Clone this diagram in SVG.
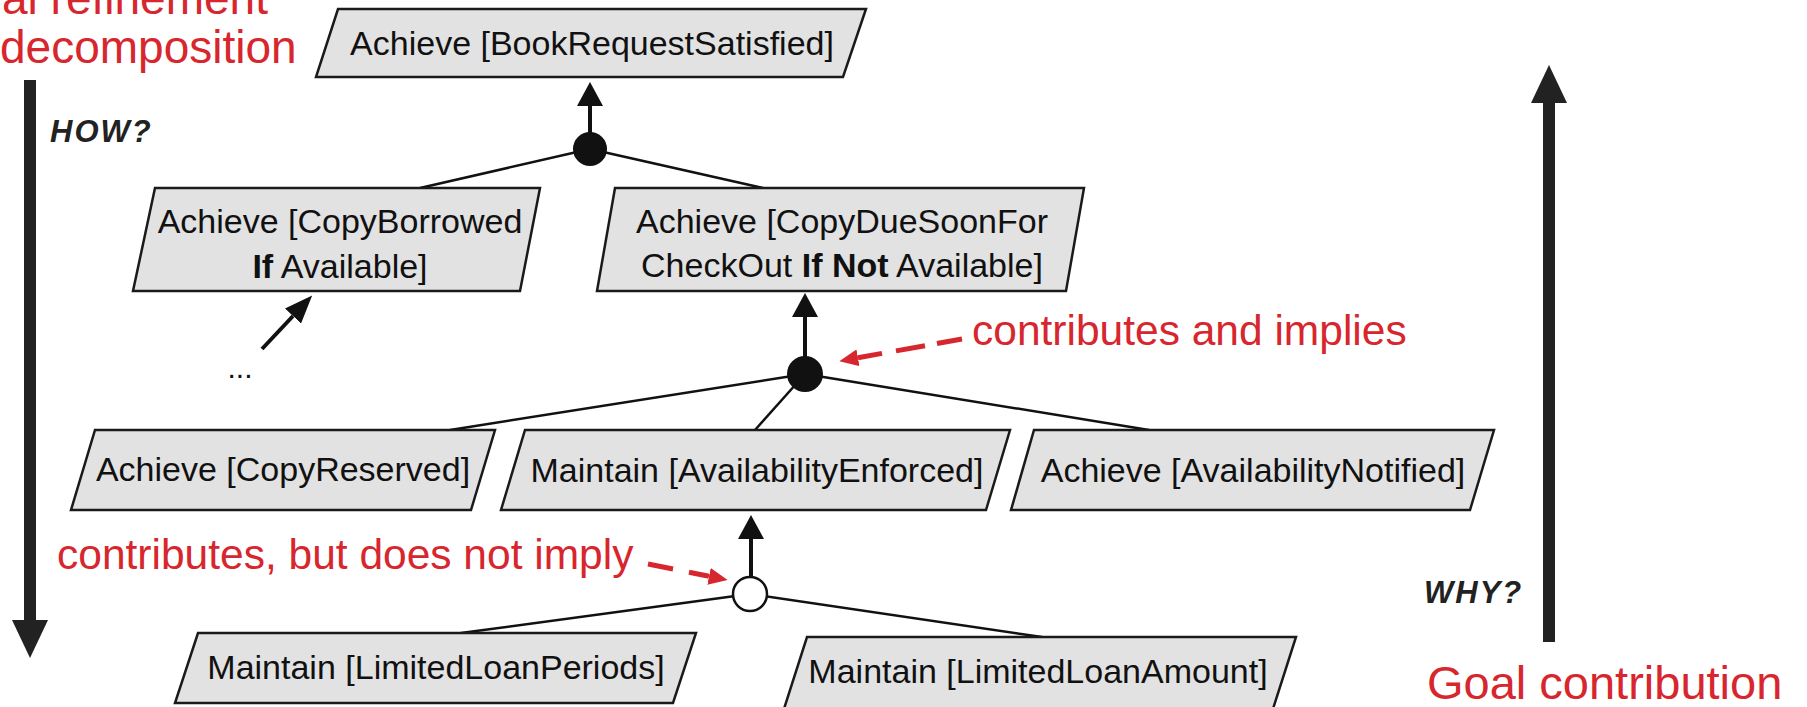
<svg xmlns="http://www.w3.org/2000/svg" width="1807" height="707" viewBox="0 0 1807 707">
<style>
.goal{fill:#e2e2e2;stroke:#1a1a1a;stroke-width:2.5;stroke-linejoin:miter}
.gt{font-family:"Liberation Sans",Arial,Helvetica,sans-serif;font-size:34px;fill:#111;text-anchor:middle}
.b{font-weight:bold}
.red{font-family:"Liberation Sans",Arial,Helvetica,sans-serif;fill:#d7262d}
.q{font-family:"Liberation Sans",Arial,Helvetica,sans-serif;font-size:31px;font-weight:bold;font-style:italic;fill:#222;letter-spacing:2px}
.edge{stroke:#111;stroke-width:2.5;fill:none}
.shaft{stroke:#111;stroke-width:4;fill:none}
.big{stroke:#222;stroke-width:12;fill:none}
.rdash{stroke:#d7262d;stroke-width:5;fill:none}
.and{fill:#111;stroke:#111;stroke-width:2}
.or{fill:#fff;stroke:#111;stroke-width:2.5}
</style>
<defs>
<marker id="ah" markerUnits="userSpaceOnUse" markerWidth="24" markerHeight="26" refX="0" refY="13" orient="auto"><path d="M0,0 L24,13 L0,26 z" fill="#111"/></marker>
<marker id="ahBig" markerUnits="userSpaceOnUse" markerWidth="38" markerHeight="36" refX="0" refY="18" orient="auto"><path d="M0,0 L38,18 L0,36 z" fill="#222"/></marker>
<marker id="ahRed" markerUnits="userSpaceOnUse" markerWidth="19" markerHeight="17" refX="0" refY="8.5" orient="auto"><path d="M0,0 L19,8.5 L0,17 z" fill="#d7262d"/></marker>
<marker id="ahDots" markerUnits="userSpaceOnUse" markerWidth="28" markerHeight="22" refX="0" refY="11" orient="auto"><path d="M0,0 L28,11 L0,22 z" fill="#111"/></marker>
</defs>
<rect width="1807" height="707" fill="#fff"/>

<g id="side-labels">
<text class="red" x="2" y="14" font-size="46">al refinement</text>
<text class="red" x="0" y="63" font-size="46">decomposition</text>
<text class="q" x="50" y="142">HOW?</text>
<text class="q" x="1424" y="603">WHY?</text>
<text class="red" x="1427" y="699" font-size="47">Goal contribution</text>
<text class="red" x="972" y="345" font-size="42.5">contributes and implies</text>
<text class="red" x="57" y="569" font-size="42.5">contributes, but does not imply</text>
<text x="240" y="378" font-family="Liberation Sans,Arial,sans-serif" font-size="30" fill="#111" text-anchor="middle">...</text>
</g>

<g id="connectors">
<line class="big" x1="30" y1="80" x2="30" y2="620" marker-end="url(#ahBig)"/>
<line class="big" x1="1549" y1="642" x2="1549" y2="103" marker-end="url(#ahBig)"/>
<line class="shaft" x1="590" y1="134" x2="590" y2="106" marker-end="url(#ah)"/>
<line class="edge" x1="590" y1="149" x2="420" y2="188"/>
<line class="edge" x1="590" y1="149" x2="763" y2="188"/>
<line class="shaft" x1="805" y1="358" x2="805" y2="317" marker-end="url(#ah)"/>
<line class="edge" x1="805" y1="374" x2="450" y2="430"/>
<line class="edge" x1="805" y1="374" x2="755" y2="430"/>
<line class="edge" x1="805" y1="374" x2="1149" y2="430"/>
<line class="shaft" x1="751" y1="577" x2="751" y2="539" marker-end="url(#ah)"/>
<line class="edge" x1="750" y1="594" x2="461" y2="633"/>
<line class="edge" x1="750" y1="594" x2="1042" y2="637"/>
<line class="shaft" x1="262" y1="349" x2="293" y2="316" marker-end="url(#ahDots)"/>
<line class="rdash" x1="962" y1="339" x2="937" y2="343.5"/>
<line class="rdash" x1="925" y1="345.7" x2="896" y2="350.9"/>
<line class="rdash" x1="882" y1="353.4" x2="858" y2="357.8" marker-end="url(#ahRed)"/>
<line class="rdash" x1="648" y1="564" x2="673" y2="569"/>
<line class="rdash" x1="689" y1="572.2" x2="709" y2="576.3" marker-end="url(#ahRed)"/>
</g>

<g id="ref-and-1"><ellipse class="and" cx="590" cy="149" rx="16" ry="16"/></g>
<g id="ref-and-2"><ellipse class="and" cx="805" cy="374" rx="17" ry="17"/></g>
<g id="ref-or"><ellipse class="or" cx="750" cy="594" rx="17" ry="17"/></g>

<g id="g-book-request">
<polygon class="goal" points="338,9 866,9 843,77 316,77"/>
<text class="gt" x="592" y="55">Achieve [BookRequestSatisfied]</text>
</g>
<g id="g-copy-borrowed">
<polygon class="goal" points="155,188 540,188 520,291 133,291"/>
<text class="gt" x="340" y="233">Achieve [CopyBorrowed</text>
<text class="gt" x="340" y="278"><tspan class="b">If</tspan> Available]</text>
</g>
<g id="g-copy-due-soon">
<polygon class="goal" points="615,188 1084,188 1066,291 597,291"/>
<text class="gt" x="842" y="233">Achieve [CopyDueSoonFor</text>
<text class="gt" x="842" y="277">CheckOut <tspan class="b">If Not</tspan> Available]</text>
</g>
<g id="g-copy-reserved">
<polygon class="goal" points="95,430 495,430 471,510 71,510"/>
<text class="gt" x="283" y="481">Achieve [CopyReserved]</text>
</g>
<g id="g-availability-enforced">
<polygon class="goal" points="525,430 1010,430 986,510 501,510"/>
<text class="gt" x="757" y="482">Maintain [AvailabilityEnforced]</text>
</g>
<g id="g-availability-notified">
<polygon class="goal" points="1034,430 1494,430 1470,510 1011,510"/>
<text class="gt" x="1253" y="482">Achieve [AvailabilityNotified]</text>
</g>
<g id="g-limited-loan-periods">
<polygon class="goal" points="198,633 696,633 673,703 175,703"/>
<text class="gt" x="436" y="679">Maintain [LimitedLoanPeriods]</text>
</g>
<g id="g-limited-loan-amount">
<polygon class="goal" points="807,637 1296,637 1272,712 783,712"/>
<text class="gt" x="1038" y="683">Maintain [LimitedLoanAmount]</text>
</g>
</svg>
